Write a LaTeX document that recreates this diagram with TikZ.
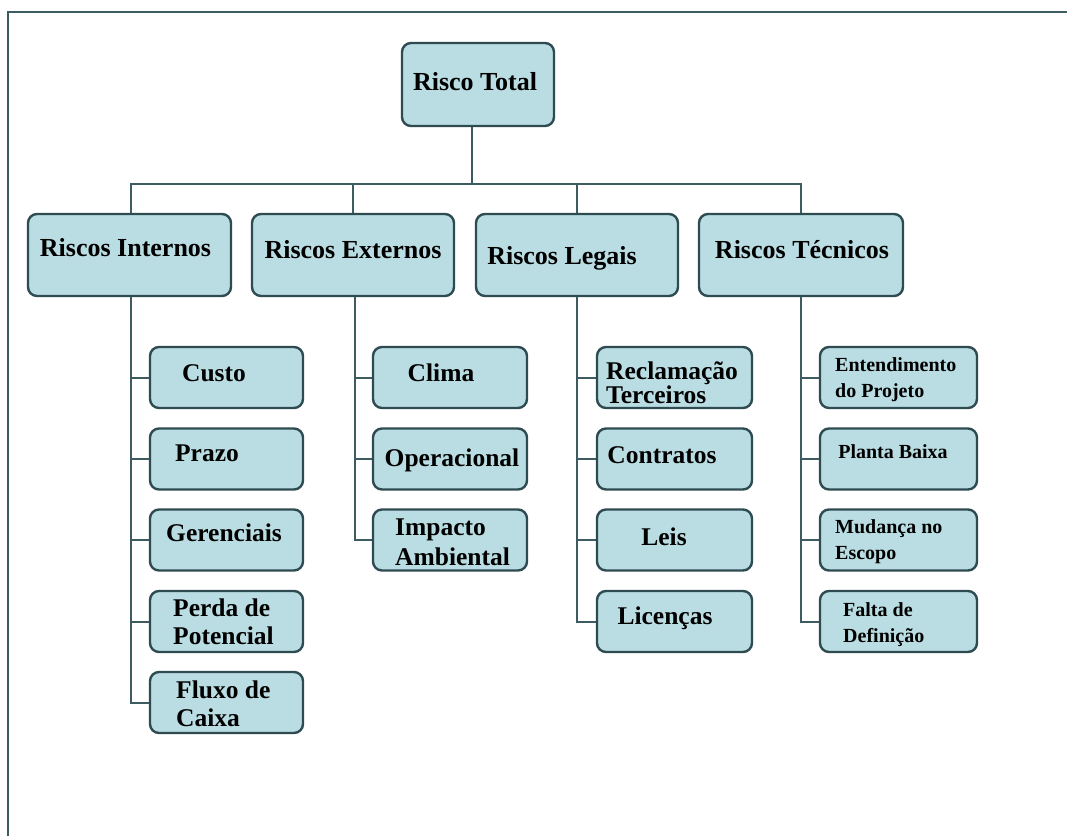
\documentclass[tikz,border=0pt]{standalone}
\usepackage{fontspec}
\setmainfont{Liberation Serif}
\definecolor{boxfill}{HTML}{B9DDE2}
\definecolor{boxline}{HTML}{2F4B52}
\definecolor{connline}{HTML}{3D5C62}
\begin{document}
\begin{tikzpicture}[x=1pt,y=-1pt,
  box/.style={draw=boxline, fill=boxfill, line width=2.4pt, rounded corners=9pt, inner sep=0pt},
  lbl/.style={inner sep=0pt, font=\bfseries\fontsize{26}{28}\selectfont, text=black},
  lbls/.style={inner sep=0pt, font=\bfseries\fontsize{25.5}{28}\selectfont, text=black, align=left},
  lblt/.style={inner sep=0pt, font=\bfseries\fontsize{20}{26}\selectfont, text=black, align=left},
  conn/.style={draw=connline, line width=2pt},
  frame/.style={draw=connline, line width=2pt}]
\useasboundingbox (0,0) rectangle (1067,836);
\draw[frame] (7.5,836) -- (7.5,12) -- (1067,12);

% root
\node[box, minimum width=152pt, minimum height=83pt] (root) at (478,84.5) {};
\node[lbl] (rootT) at (475,82) {Risco Total};

% level 2
\node[box, minimum width=203pt, minimum height=82pt] (int) at (129.5,255) {};
\node[lbl] (intT) at (125.5,248) {Riscos Internos};
\node[box, minimum width=202pt, minimum height=82pt] (ext) at (353,255) {};
\node[lbl] (extT) at (353,250) {Riscos Externos};
\node[box, minimum width=202pt, minimum height=82pt] (leg) at (577,255) {};
\node[lbl] (legT) at (562,258) {Riscos Legais};
\node[box, minimum width=204pt, minimum height=82pt] (tec) at (801,255) {};
\node[lbl] (tecT) at (802,250) {Riscos Técnicos};

% Internos children
\node[box, minimum width=153pt, minimum height=61pt] (i1) at (226.5,377.5) {};
\node[lbls] at (214,373) {Custo};
\node[box, minimum width=153pt, minimum height=61pt] (i2) at (226.5,459) {};
\node[lbls] at (207,453) {Prazo};
\node[box, minimum width=153pt, minimum height=61pt] (i3) at (226.5,540) {};
\node[lbls] at (224,533) {Gerenciais};
\node[box, minimum width=153pt, minimum height=61pt] (i4) at (226.5,621.5) {};
\node[lbls, anchor=west] at (173,622) {Perda de\\Potencial};
\node[box, minimum width=153pt, minimum height=61pt] (i5) at (226.5,702.5) {};
\node[lbls, anchor=west] at (176,704) {Fluxo de\\Caixa};

% Externos children
\node[box, minimum width=154pt, minimum height=61pt] (e1) at (450,377.5) {};
\node[lbls] at (441,373) {Clima};
\node[box, minimum width=154pt, minimum height=61pt] (e2) at (450,459) {};
\node[lbls] at (452,460) {Operacional};
\node[box, minimum width=154pt, minimum height=61pt] (e3) at (450,540) {};
\node[lbls, anchor=west, font=\bfseries\fontsize{25.5}{30}\selectfont] at (395,542) {Impacto\\Ambiental};

% Legais children
\node[box, minimum width=155pt, minimum height=61pt] (l1) at (674.5,377.5) {};
\node[lbls, anchor=west, font=\bfseries\fontsize{25.5}{21}\selectfont] at (606,383) {Reclamação\\Terceiros};
\node[box, minimum width=155pt, minimum height=61pt] (l2) at (674.5,459) {};
\node[lbls] at (662,455) {Contratos};
\node[box, minimum width=155pt, minimum height=61pt] (l3) at (674.5,540) {};
\node[lbls] at (664,537) {Leis};
\node[box, minimum width=155pt, minimum height=61pt] (l4) at (674.5,621.5) {};
\node[lbls] at (665,618) {Licenças};

% Tecnicos children
\node[box, minimum width=157pt, minimum height=61pt] (t1) at (898.5,377.5) {};
\node[lblt, anchor=west] at (835,380) {Entendimento\\do Projeto};
\node[box, minimum width=157pt, minimum height=61pt] (t2) at (898.5,459) {};
\node[lblt] at (893,452) {Planta Baixa};
\node[box, minimum width=157pt, minimum height=61pt] (t3) at (898.5,540) {};
\node[lblt, anchor=west] at (835,542) {Mudança no\\Escopo};
\node[box, minimum width=157pt, minimum height=61pt] (t4) at (898.5,621.5) {};
\node[lblt, anchor=west] at (843,625) {Falta de\\Definição};

% connectors
\coordinate (bus) at (472,184);
\draw[conn] (root.south -| bus) -- (bus);
\draw[conn] ([xshift=1.5pt]int.north) |- (bus) -| (tec.north);
\draw[conn] (ext.north) -- (ext.north |- bus);
\draw[conn] (leg.north) -- (leg.north |- bus);

\foreach \c in {i1,i2,i3,i4,i5}
  \draw[conn] ([xshift=1.5pt]int.south) |- (\c.west);
\foreach \c in {e1,e2,e3}
  \draw[conn] ([xshift=2pt]ext.south) |- (\c.west);
\foreach \c in {l1,l2,l3,l4}
  \draw[conn] (leg.south) |- (\c.west);
\foreach \c in {t1,t2,t3,t4}
  \draw[conn] (tec.south) |- (\c.west);
\end{tikzpicture}
\end{document}
